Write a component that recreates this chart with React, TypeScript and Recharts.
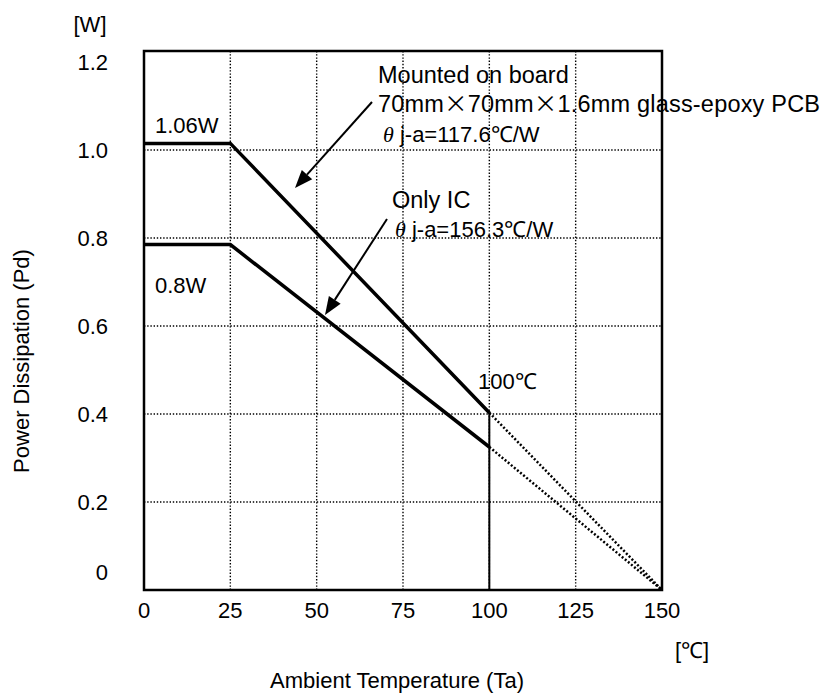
import React from "react";
import {
  LineChart,
  Line,
  XAxis,
  YAxis,
  ReferenceLine,
  ReferenceArea,
} from "recharts";

// ambient temperature [°C] / power dissipation [W]
const xTicks = [0, 25, 50, 75, 100, 125, 150];
const yTicks = [0, 0.2, 0.4, 0.6, 0.8, 1.0, 1.2];
const xGrid = [25, 50, 75, 100, 125];
const yGrid = [0.2, 0.4, 0.6, 0.8, 1.0];

const boardTa = [0, 25, 100];
const boardPd = [1.015, 1.015, 0.403];
const boardExtTa = [100, 150];
const boardExtPd = [0.403, 0];

const icTa = [0, 25, 100];
const icPd = [0.785, 0.785, 0.325];
const icExtTa = [100, 150];
const icExtPd = [0.325, 0];

const limitTa = [100, 100];
const limitPd = [0.403, 0];

const toRows = (xs: number[], ys: number[]) => xs.map((x, i) => ({ x, y: ys[i] }));

const FONT = "'Liberation Sans', Arial, sans-serif";
const CJK = "'Noto Sans CJK JP', sans-serif";

const YTick = (props: any) => {
  const { x, y, payload } = props;
  const v = payload.value;
  const shift = v === 0 ? -18 : 0;
  return (
    <text x={x - 36} y={y + 8 + shift} textAnchor="end" fontSize={22} fontFamily={FONT} fill="#000">
      {v === 0 ? "0" : v.toFixed(1)}
    </text>
  );
};

const XTick = (props: any) => {
  const { x, y, payload } = props;
  return (
    <text x={x} y={y + 28} textAnchor="middle" fontSize={22} fontFamily={FONT} fill="#000">
      {payload.value}
    </text>
  );
};

function Arrow({ x1, y1, x2, y2 }: { x1: number; y1: number; x2: number; y2: number }) {
  const dx = x2 - x1;
  const dy = y2 - y1;
  const len = Math.hypot(dx, dy);
  const ux = dx / len;
  const uy = dy / len;
  const hl = 18;
  const hw = 7;
  const bx = x2 - ux * hl;
  const by = y2 - uy * hl;
  const pts = `${x2},${y2} ${bx - uy * hw},${by + ux * hw} ${bx + uy * hw},${by - ux * hw}`;
  return (
    <g>
      <line x1={x1} y1={y1} x2={bx} y2={by} stroke="#000" strokeWidth={2} />
      <polygon points={pts} fill="#000" />
    </g>
  );
}

export default function App() {
  return (
    <div style={{ position: "absolute", left: 0, top: 0, width: 824, height: 693, background: "#fff" }}>
      <LineChart width={824} height={693} margin={{ top: 51, right: 162, bottom: 0, left: 0 }}>
        <XAxis
          type="number"
          dataKey="x"
          domain={[0, 150]}
          ticks={xTicks}
          axisLine={false}
          tickLine={false}
          tickSize={0}
          tickMargin={0}
          height={103}
          tick={<XTick />}
          allowDuplicatedCategory={false}
        />
        <YAxis
          type="number"
          domain={[0, 1.225]}
          ticks={yTicks}
          axisLine={false}
          tickLine={false}
          tickSize={0}
          tickMargin={0}
          width={144}
          tick={<YTick />}
        />
        {yGrid.map((v) => (
          <ReferenceLine key={"y" + v} y={v} stroke="#000" strokeWidth={1.4} strokeDasharray="1.4 1.8" />
        ))}
        {xGrid.map((v) => (
          <ReferenceLine key={"x" + v} x={v} stroke="#000" strokeWidth={1.4} strokeDasharray="1.4 1.8" />
        ))}
        <Line data={toRows(boardExtTa, boardExtPd)} dataKey="y" stroke="#000" strokeWidth={2.5} strokeDasharray="2 2" dot={false} isAnimationActive={false} />
        <Line data={toRows(icExtTa, icExtPd)} dataKey="y" stroke="#000" strokeWidth={2.5} strokeDasharray="2 2" dot={false} isAnimationActive={false} />
        <Line data={toRows(limitTa, limitPd)} dataKey="y" stroke="#000" strokeWidth={2} dot={false} isAnimationActive={false} />
        <Line data={toRows(boardTa, boardPd)} dataKey="y" stroke="#000" strokeWidth={3.5} dot={false} isAnimationActive={false} />
        <Line data={toRows(icTa, icPd)} dataKey="y" stroke="#000" strokeWidth={3.5} dot={false} isAnimationActive={false} />
        <ReferenceArea x1={0} x2={150} y1={0} y2={1.225} fill="none" stroke="#000" strokeWidth={2.5} />
      </LineChart>
      <svg
        width={824}
        height={693}
        style={{ position: "absolute", left: 0, top: 0, pointerEvents: "none" }}
        fontFamily={FONT}
        fontSize={22}
        fill="#000"
      >
        <text x={90} y={32} textAnchor="middle">[W]</text>
        <text x={692} y={658} textAnchor="middle">[℃]</text>
        <text x={397} y={688} textAnchor="middle">Ambient Temperature (Ta)</text>
        <text x={29} y={361} textAnchor="middle" transform="rotate(-90 29 361)">Power Dissipation (Pd)</text>
        <text x={155} y={133}>1.06W</text>
        <text x={155} y={293}>0.8W</text>
        <text x={478} y={389}>100℃</text>
        <text x={378} y={83} fontSize={23.5}>Mounted on board</text>
        <text x={378} y={112} fontSize={23.5} textLength={442} lengthAdjust="spacing">
          70mm<tspan fontFamily={CJK}>×</tspan>70mm<tspan fontFamily={CJK}>×</tspan>1.6mm glass-epoxy PCB
        </text>
        <text x={383} y={142}>
          <tspan fontStyle="italic" fontFamily="'Liberation Serif', serif">θ</tspan> j-a=117.6℃/W
        </text>
        <text x={392} y={208} fontSize={23.5}>Only IC</text>
        <text x={395} y={237}>
          <tspan fontStyle="italic" fontFamily="'Liberation Serif', serif">θ</tspan> j-a=156.3℃/W
        </text>
        <Arrow x1={372} y1={102} x2={295} y2={188} />
        <Arrow x1={387} y1={219} x2={325} y2={315} />
      </svg>
    </div>
  );
}
